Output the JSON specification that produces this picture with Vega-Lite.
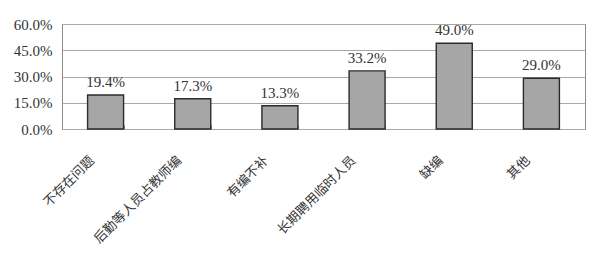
{
  "$schema": "https://vega.github.io/schema/vega-lite/v6.json",
  "width": 523,
  "height": 105,
  "autosize": "none",
  "padding": {"left": 62, "top": 24, "right": 11, "bottom": 133},
  "background": "white",
  "config": {
    "view": {"stroke": "#8c8c8c", "strokeWidth": 1}
  },
  "data": {
    "values": [
      {"cat": "不存在问题", "v": 0.194},
      {"cat": "后勤等人员占教师编", "v": 0.173},
      {"cat": "有编不补", "v": 0.133},
      {"cat": "长期聘用临时人员", "v": 0.332},
      {"cat": "缺编", "v": 0.49},
      {"cat": "其他", "v": 0.29}
    ]
  },
  "encoding": {
    "x": {
      "field": "cat",
      "type": "nominal",
      "sort": null,
      "scale": {"paddingInner": 0.587, "paddingOuter": 0.2935},
      "axis": {
        "title": null,
        "domain": false,
        "grid": false,
        "ticks": true,
        "tickBand": "extent",
        "tickSize": -4,
        "tickColor": "#8c8c8c",
        "labelAngle": -45,
        "labelAlign": "right",
        "labelBaseline": "middle",
        "labelOffset": -14,
        "labelPadding": 33,
        "labelFont": "Noto Sans CJK SC",
        "labelFontSize": 13,
        "labelColor": "#333333"
      }
    },
    "y": {
      "field": "v",
      "type": "quantitative",
      "scale": {"domain": [0, 0.6], "nice": false},
      "axis": {
        "title": null,
        "values": [0, 0.15, 0.3, 0.45, 0.6],
        "format": ".1%",
        "domain": false,
        "ticks": false,
        "grid": true,
        "gridColor": "#a8a8a8",
        "gridWidth": 1,
        "labelPadding": 10,
        "labelFont": "Liberation Serif",
        "labelFontSize": 15,
        "labelColor": "#333333"
      }
    }
  },
  "layer": [
    {
      "mark": {"type": "bar", "fill": "#a6a6a6", "stroke": "#2b2b2b", "strokeWidth": 1.4}
    },
    {
      "mark": {"type": "text", "baseline": "alphabetic", "dy": -8, "font": "Liberation Serif", "fontSize": 15, "color": "#333333"},
      "encoding": {
        "text": {"field": "v", "type": "quantitative", "format": ".1%"}
      }
    }
  ]
}
